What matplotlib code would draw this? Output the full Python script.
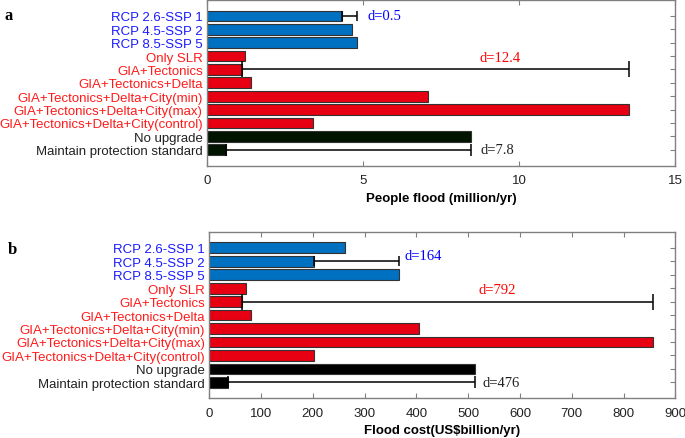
import numpy as np
import matplotlib.pyplot as plt

# Категории сценариев
categories = ['RCP 2.6-SSP 1', 'RCP 4.5-SSP 2', 'RCP 8.5-SSP 5', 'Only SLR',
              'GIA+Tectonics', 'GIA+Tectonics+Delta',
              'GIA+Tectonics+Delta+City(min)', 'GIA+Tectonics+Delta+City(max)',
              'GIA+Tectonics+Delta+City(control)', 'No upgrade',
              'Maintain protection standard']
groups = ['blue'] * 3 + ['red'] * 6 + ['black'] * 2

# Значения
people_flood = [4.33, 4.65, 4.80, 1.22, 1.13, 1.41, 7.09, 13.53, 3.40, 8.45, 0.62]
flood_cost = [262, 203, 367, 70, 64, 80, 404, 856, 203, 513, 37]

# Диапазоны (от, до, подпись)
people_ranges = [(0, 2, 'd=0.5'), (4, 7, 'd=12.4'), (10, 9, 'd=7.8')]
cost_ranges = [(1, 2, 'd=164'), (4, 7, 'd=792'), (10, 9, 'd=476')]

plt.rcParams['font.family'] = ['Liberation Sans', 'DejaVu Sans']

bar_colors = {'blue': '#0070C0', 'red': '#E60012', 'black': '#001400'}
text_colors = {'blue': '#1a1aff', 'red': '#ff1a1a', 'black': '#222222'}
spine_col = '#808080'

fig = plt.figure(figsize=(6.85, 4.39), dpi=100)
ax_a = fig.add_axes([0.302, 0.620, 0.684, 0.378])
ax_b = fig.add_axes([0.3055, 0.090, 0.6805, 0.380])

y = np.arange(1, len(categories) + 1)


def draw(ax, values, ranges, xmax, xticks, xlabel, black_col, caps, texts):
    cols = [bar_colors[g] for g in groups]
    cols[-2:] = [black_col, black_col]
    ax.barh(y, values, height=0.8, color=cols, edgecolor='#333333', linewidth=0.8, zorder=2)
    for (i0, i1, lab), cs, (tx, ty, ha, tc) in zip(ranges, caps, texts):
        x0 = values[i0]
        x1 = values[i1]
        ax.errorbar([x0], [y[i0]], xerr=[[0], [x1 - x0]], fmt='none', ecolor='black',
                    elinewidth=1.1, capsize=cs, capthick=1.1, zorder=3)
        ax.text(tx, ty, lab, ha=ha, va='center', color=tc,
                family=['Liberation Serif'], fontsize=10.5)
    ax.set_xlim(0, xmax)
    ax.set_ylim(12.2, -0.2)
    ax.set_xticks(xticks)
    ax.set_yticks(y)
    ax.set_yticklabels(categories, fontsize=9.5)
    for lab, g in zip(ax.get_yticklabels(), groups):
        lab.set_color(text_colors[g])
    ax.tick_params(axis='both', direction='in', length=3.5, color=spine_col,
                   top=True, right=True, labelsize=9.5, pad=3)
    ax.tick_params(axis='x', pad=6, labelcolor='#222222')
    for s in ax.spines.values():
        s.set_color(spine_col)
        s.set_linewidth(1.0)
    ax.set_xlabel(xlabel, fontsize=9.5, fontweight='bold', labelpad=4)


draw(ax_a, people_flood, people_ranges, 15, [0, 5, 10, 15], 'People flood (million/yr)',
     '#001400', [3.5, 6, 4],
     [(5.15, 1, 'left', 'blue'), (9.4, 4.1, 'center', 'red'), (8.75, 11, 'left', '#222222')])
draw(ax_b, flood_cost, cost_ranges, 900, np.arange(0, 901, 100), 'Flood cost(US$billion/yr)',
     '#000000', [3.5, 6, 4],
     [(376, 1.55, 'left', 'blue'), (555, 4.1, 'center', 'red'), (528, 11, 'left', '#222222')])

fig.text(0.006, 0.963, 'a', family=['Liberation Serif'], fontweight='bold', fontsize=12,
         va='center')
fig.text(0.012, 0.430, 'b', family=['Liberation Serif'], fontweight='bold', fontsize=12,
         va='center')

fig.savefig('out.png', dpi=100)
